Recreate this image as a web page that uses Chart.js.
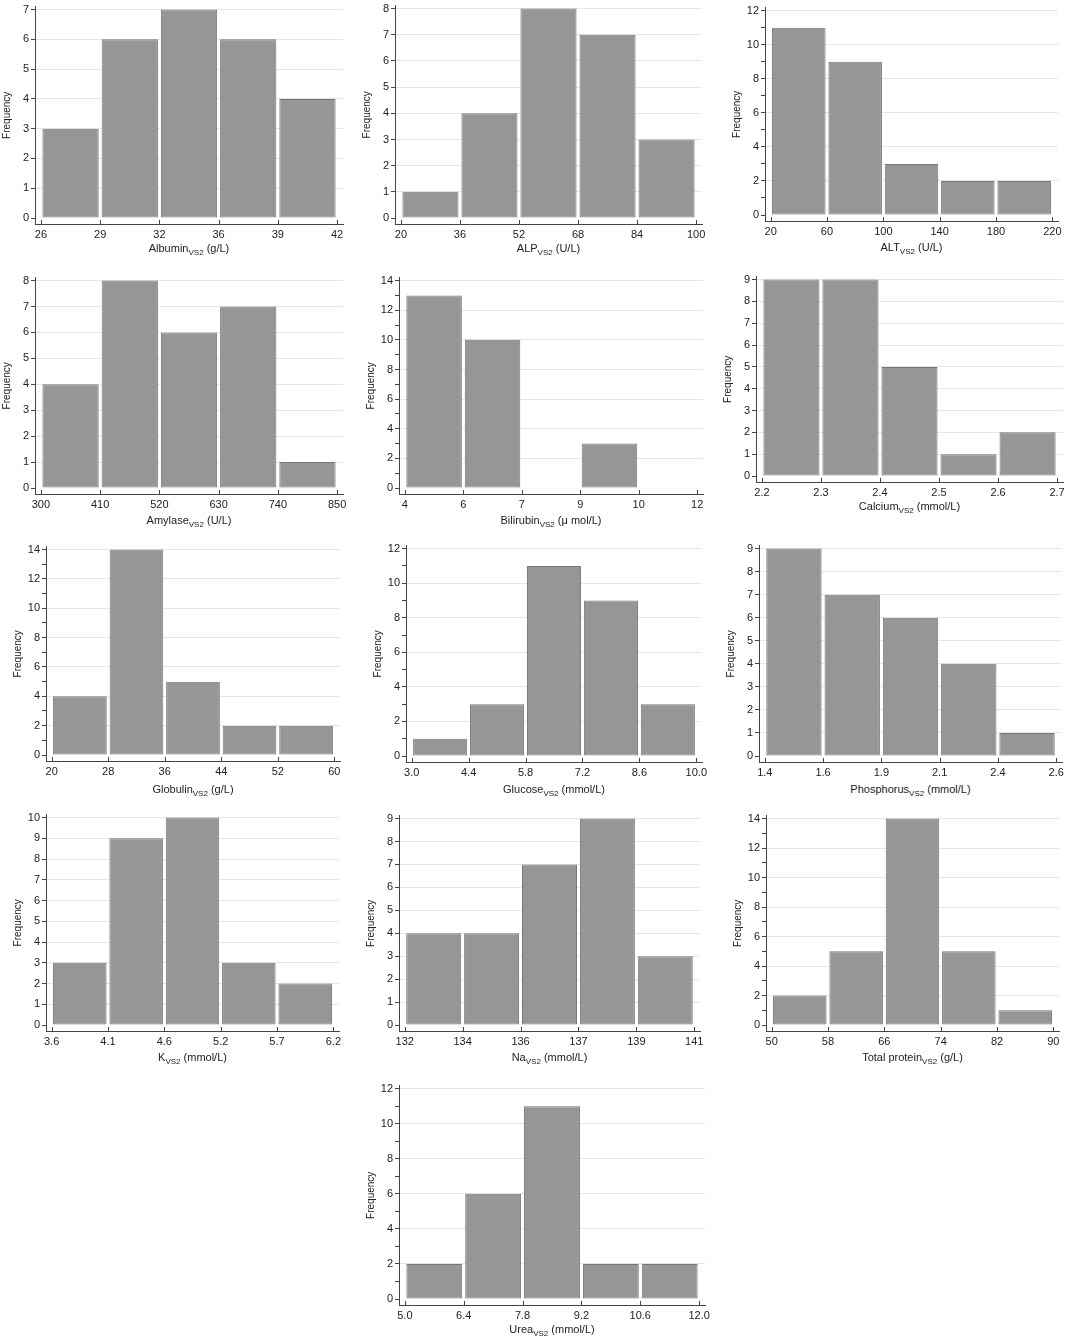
<!DOCTYPE html>
<html>
<head>
<meta charset="utf-8">
<script src="https://cdn.jsdelivr.net/npm/chart.js@4.4.1/dist/chart.umd.min.js"></script>
<style>
  body { margin: 0; background: #fff; width: 1067px; height: 1340px; position: relative; overflow: hidden;
         font-family: "Liberation Sans", Arial, sans-serif; }
  .panel { position: absolute; }
  .xt { position: absolute; font-size: 11px; color: #222; white-space: nowrap; transform: translateX(-50%); line-height: 14px; }
  .xt sub { font-size: 8px; vertical-align: -3px; line-height: 0; }
</style>
</head>
<body>
<script>
// bin edges (tick labels) and frequencies for each histogram
const albuminEdges = ['26', '29', '32', '36', '39', '42'];
const albuminCounts = [3, 6, 7, 6, 4];
const alpEdges = ['20', '36', '52', '68', '84', '100'];
const alpCounts = [1, 4, 8, 7, 3];
const altEdges = ['20', '60', '100', '140', '180', '220'];
const altCounts = [11, 9, 3, 2, 2];
const amylaseEdges = ['300', '410', '520', '630', '740', '850'];
const amylaseCounts = [4, 8, 6, 7, 1];
const bilirubinEdges = ['4', '6', '7', '9', '10', '12'];
const bilirubinCounts = [13, 10, 0, 3, 0];
const calciumEdges = ['2.2', '2.3', '2.4', '2.5', '2.6', '2.7'];
const calciumCounts = [9, 9, 5, 1, 2];
const globulinEdges = ['20', '28', '36', '44', '52', '60'];
const globulinCounts = [4, 14, 5, 2, 2];
const glucoseEdges = ['3.0', '4.4', '5.8', '7.2', '8.6', '10.0'];
const glucoseCounts = [1, 3, 11, 9, 3];
const phosphorusEdges = ['1.4', '1.6', '1.9', '2.1', '2.4', '2.6'];
const phosphorusCounts = [9, 7, 6, 4, 1];
const kEdges = ['3.6', '4.1', '4.6', '5.2', '5.7', '6.2'];
const kCounts = [3, 9, 10, 3, 2];
const naEdges = ['132', '134', '136', '137', '139', '141'];
const naCounts = [4, 4, 7, 9, 3];
const tpEdges = ['50', '58', '66', '74', '82', '90'];
const tpCounts = [2, 5, 14, 5, 1];
const ureaEdges = ['5.0', '6.4', '7.8', '9.2', '10.6', '12.0'];
const ureaCounts = [2, 6, 11, 2, 2];

// y axis top and labelled step per chart
const yMaxes = [7, 8, 12, 8, 14, 9, 14, 12, 9, 10, 9, 14, 12];
const ySteps = [1, 1, 2, 1, 2, 1, 2, 2, 1, 1, 1, 2, 2];

const names = ['Albumin', 'ALP', 'ALT', 'Amylase', 'Bilirubin', 'Calcium', 'Globulin', 'Glucose',
               'Phosphorus', 'K', 'Na', 'Total protein', 'Urea'];
const units = ['(g/L)', '(U/L)', '(U/L)', '(U/L)', '(\u03bc mol/L)', '(mmol/L)', '(g/L)', '(mmol/L)',
               '(mmol/L)', '(mmol/L)', '(mmol/L)', '(g/L)', '(mmol/L)'];
const edgeSets = [albuminEdges, alpEdges, altEdges, amylaseEdges, bilirubinEdges, calciumEdges, globulinEdges,
                  glucoseEdges, phosphorusEdges, kEdges, naEdges, tpEdges, ureaEdges];
const countSets = [albuminCounts, alpCounts, altCounts, amylaseCounts, bilirubinCounts, calciumCounts, globulinCounts,
                   glucoseCounts, phosphorusCounts, kCounts, naCounts, tpCounts, ureaCounts];

// page placement: first edge x, last edge x, top tick y, zero y, title y
const boxes = [
  [41, 337, 9, 218, 249], [401, 696, 8, 218, 249], [771, 1052, 10, 215, 248],
  [41, 337, 280, 488, 521], [405, 697, 280, 488, 521], [762, 1057, 279, 476, 507],
  [52, 334, 549, 755, 790], [412, 696, 548, 756, 790], [765, 1056, 548, 756, 790],
  [52, 333, 817, 1025, 1058], [405, 694, 818, 1025, 1058], [772, 1053, 818, 1025, 1058],
  [405, 699, 1088, 1299, 1330]
];

Chart.defaults.font.family = '"Liberation Sans", Arial, sans-serif';
Chart.defaults.color = '#222';

const Y_W = 34, PAD_T = 8, PAD_R = 16, X_H = 20, BELOW = 6, ABOVE = 3;

// short tick marks pointing up from the x axis line
const innerTicks = {
  id: 'innerTicks',
  afterDatasetsDraw(chart) {
    const xs = chart.scales.x;
    const ctx = chart.ctx;
    const yb = chart.chartArea.bottom;
    ctx.save();
    ctx.strokeStyle = '#444';
    ctx.lineWidth = 1;
    xs.ticks.forEach(t => {
      const px = Math.round(xs.getPixelForValue(t.value)) + 0.5;
      ctx.beginPath();
      ctx.moveTo(px, yb);
      ctx.lineTo(px, yb - 4);
      ctx.stroke();
    });
    ctx.restore();
  }
};

names.forEach((name, i) => {
  const [x0, x1, yTop, yZero, titleY] = boxes[i];
  const edges = edgeSets[i];
  const yMax = yMaxes[i], yStep = ySteps[i];
  const ppb = (x1 - x0) / 5;
  const ppu = (yZero - yTop) / yMax;
  const chartL = x0 - 0.1 * ppb, chartR = x1 + 0.1 * ppb, chartB = yZero + BELOW;
  const left = Math.round(chartL - Y_W), top = Math.round(yTop - ABOVE - PAD_T);
  const w = Math.round(chartR - left + PAD_R), h = Math.round(chartB - top + X_H);

  const div = document.createElement('div');
  div.className = 'panel';
  div.style.left = left + 'px';
  div.style.top = top + 'px';
  const cv = document.createElement('canvas');
  cv.width = w; cv.height = h;
  cv.style.width = w + 'px'; cv.style.height = h + 'px';
  div.appendChild(cv);
  document.body.appendChild(div);

  const t = document.createElement('div');
  t.className = 'xt';
  t.style.left = ((x0 + x1) / 2) + 'px';
  t.style.top = (titleY - 8) + 'px';
  t.innerHTML = name + '<sub>VS2</sub> ' + units[i];
  document.body.appendChild(t);

  new Chart(cv, {
    type: 'bar',
    data: {
      datasets: [{
        data: countSets[i].map((c, k) => ({ x: k + 0.5, y: c })),
        backgroundColor: '#969696',
        borderColor: '#777777',
        borderWidth: 1,
        borderSkipped: false,
        barPercentage: 1,
        categoryPercentage: 0.95
      }]
    },
    options: {
      responsive: false,
      animation: false,
      events: [],
      layout: { padding: { top: PAD_T, right: PAD_R, left: 0, bottom: 0 } },
      plugins: { legend: { display: false }, tooltip: { enabled: false } },
      scales: {
        x: {
          type: 'linear', min: -0.1, max: 5.1, offset: false,
          grid: { display: false, drawTicks: false, offset: false },
          border: { display: true, color: '#444', width: 1 },
          ticks: {
            stepSize: 1, includeBounds: false, autoSkip: false, maxRotation: 0, padding: 4,
            font: { size: 11 }, color: '#222',
            callback: v => Number.isInteger(v) ? edges[v] : ''
          },
          afterFit: s => { s.height = X_H; }
        },
        y: {
          min: -BELOW / ppu, max: yMax + ABOVE / ppu,
          grid: {
            color: c => (c.tick && c.tick.value > 0 && c.tick.value % yStep === 0) ? '#e6e6e6' : 'rgba(0,0,0,0)',
            tickColor: '#444', tickLength: 4, drawTicks: true
          },
          border: { display: true, color: '#444', width: 1 },
          ticks: {
            stepSize: 1, includeBounds: false, autoSkip: false, padding: 2,
            font: { size: 11 }, color: '#222',
            callback: v => (v % yStep === 0) ? String(v) : ''
          },
          title: { display: true, text: 'Frequency', font: { size: 10 }, color: '#222', padding: { top: 0, bottom: 2 } },
          afterFit: s => { s.width = Y_W; }
        }
      }
    },
    plugins: [innerTicks]
  });
});
</script>
</body>
</html>
